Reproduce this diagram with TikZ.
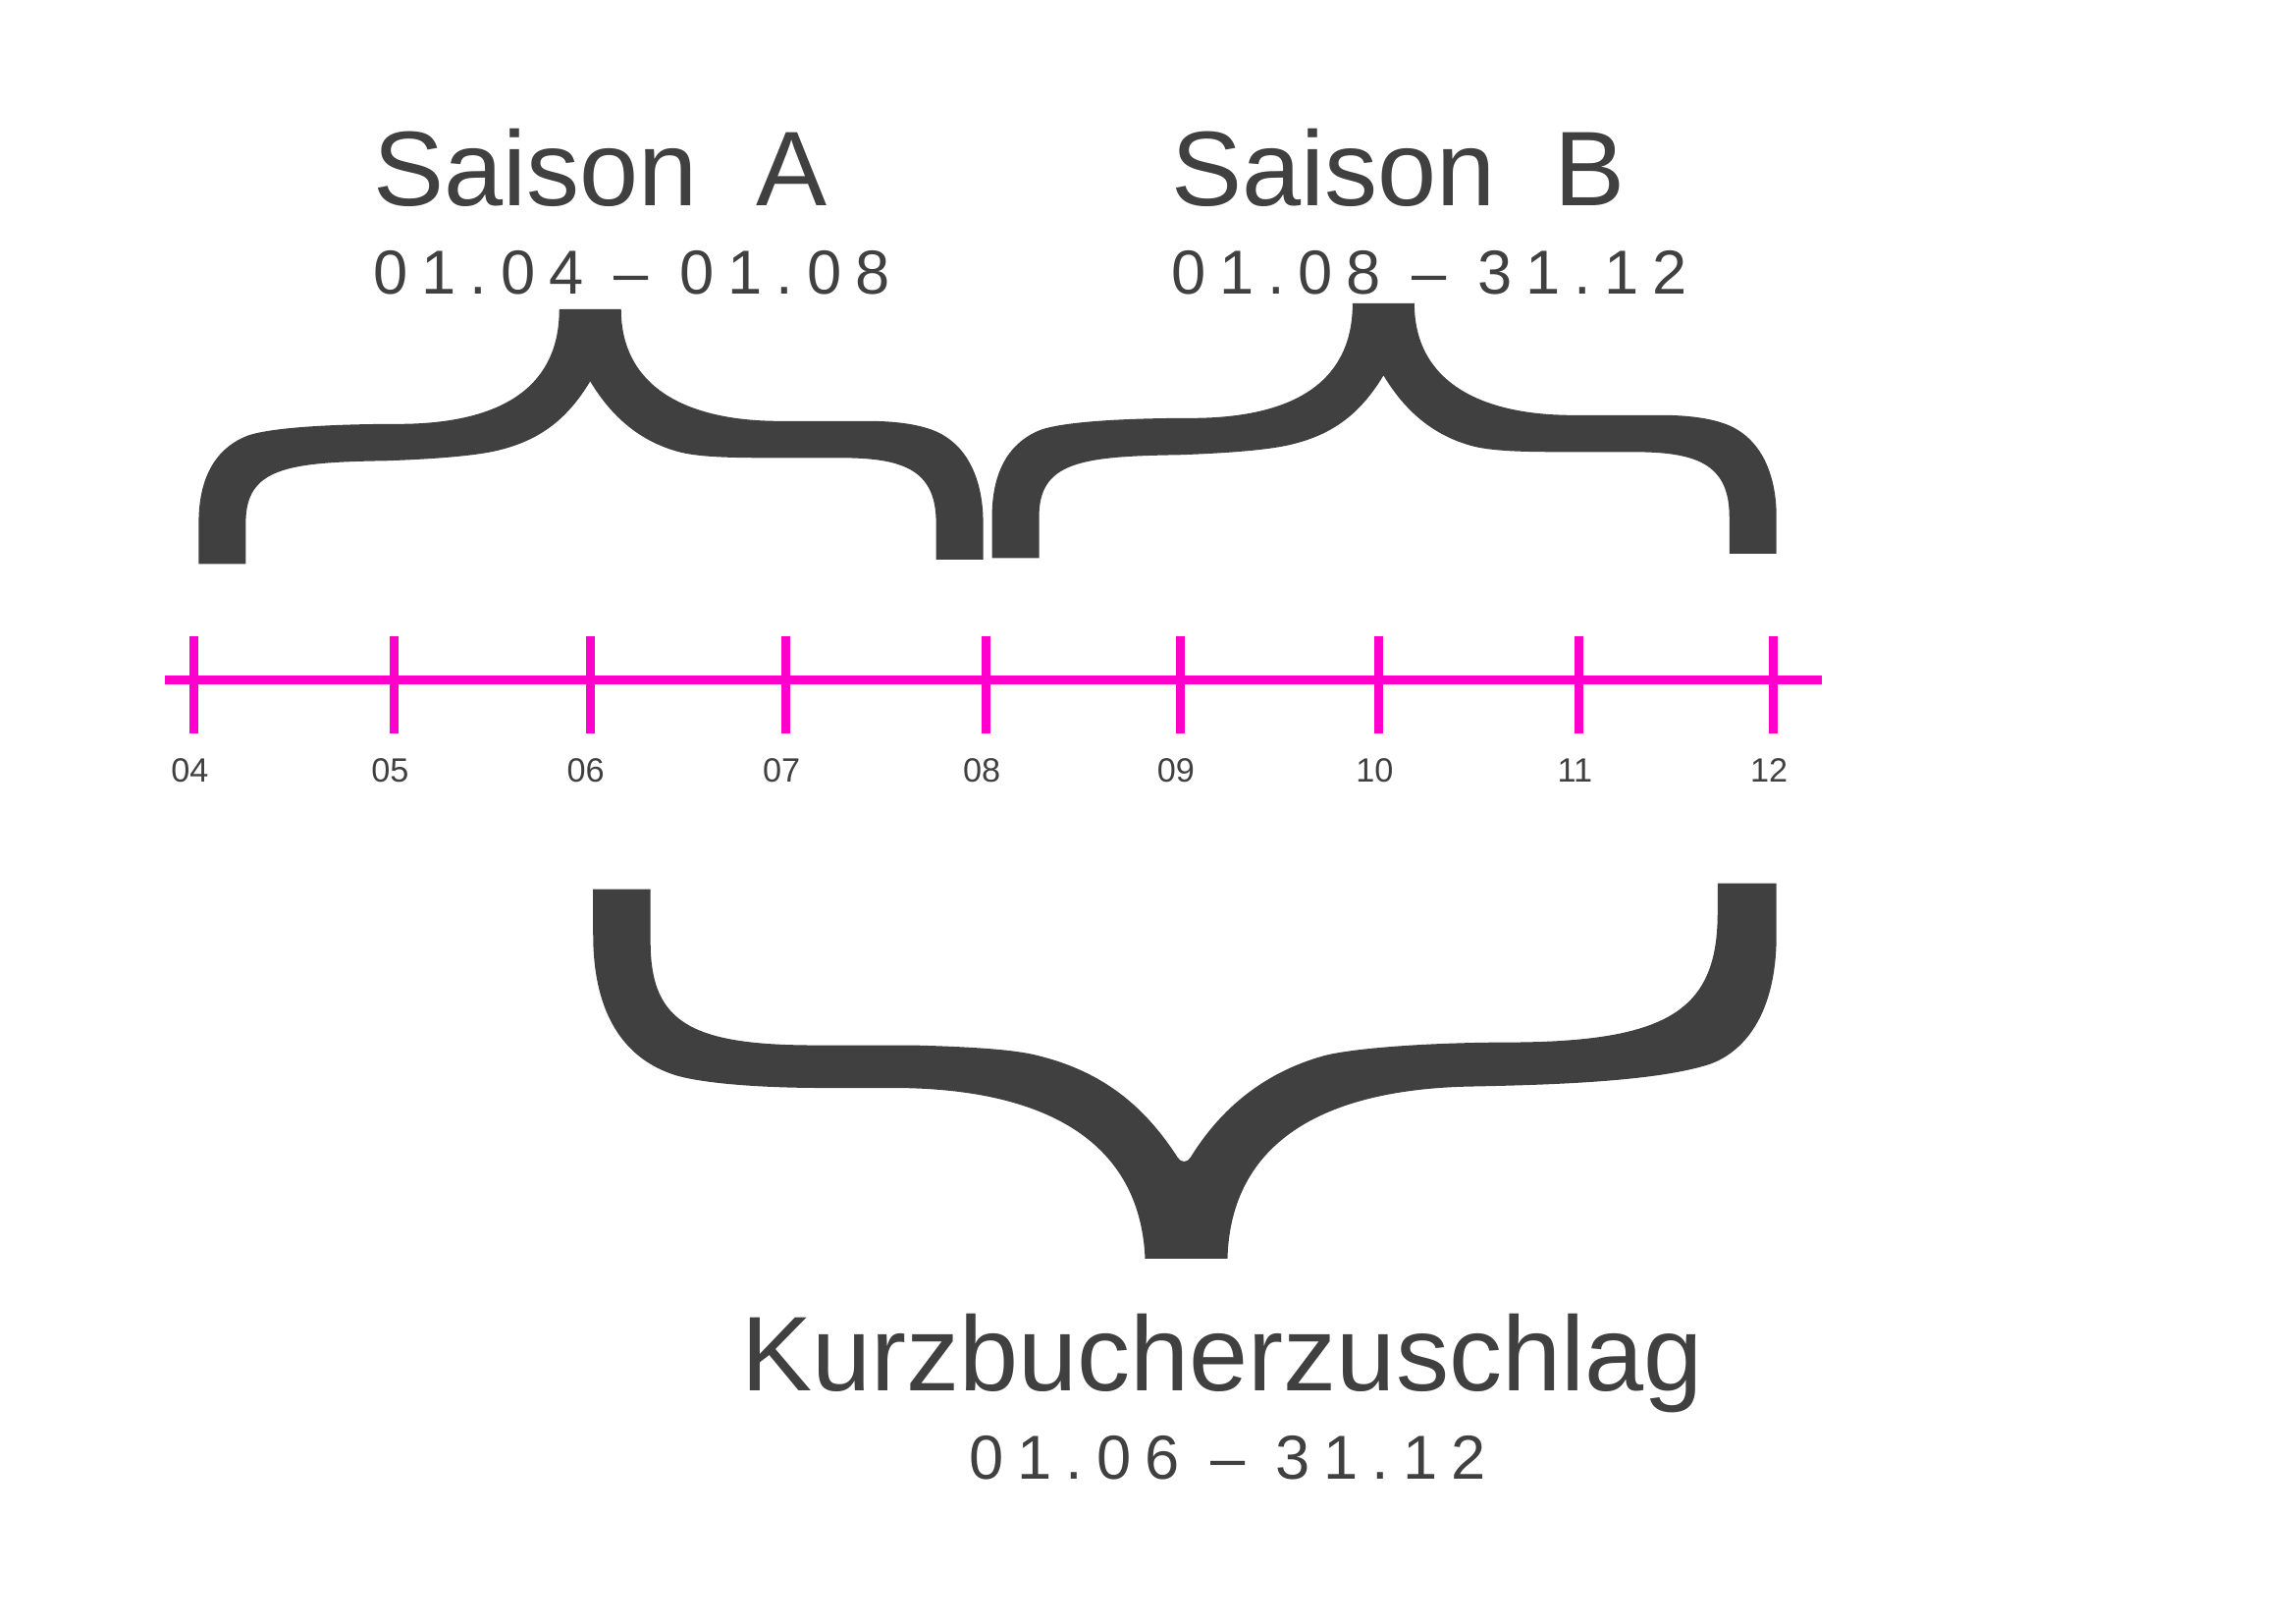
\documentclass[tikz,border=0pt]{standalone}
\usepackage{fontspec}
\setmainfont{Liberation Sans}
\definecolor{dk}{HTML}{404040}
\definecolor{mg}{HTML}{FF00CC}
\begin{document}
\begin{tikzpicture}[x=0.01cm,y=-0.01cm,
  title/.style={anchor=base west,inner sep=0,text=dk,font=\fontsize{20.5pt}{24pt}\selectfont},
  date/.style={anchor=base west,inner sep=0,text=dk,font=\fontsize{12pt}{14pt}\selectfont\addfontfeature{LetterSpace=22}},
  lab/.style={anchor=base,inner sep=0,text=dk,font=\fontsize{6.5pt}{8pt}\selectfont},
  tick/.style={draw=mg,line width=1.7pt}]
\useasboundingbox (0,0) rectangle (1560,1103);
% timeline
\coordinate (tl0) at (112,462); \coordinate (tl1) at (1238,462);
\draw[mg,line width=1.7pt] (tl0) -- (tl1);
\foreach \x/\l [count=\i] in {132/04,268/05,401/06,534/07,670/08,802/09,937/10,1073/11,1205/12}{
  \coordinate (ta\i) at (\x,432); \coordinate (tb\i) at (\x,498);
  \draw[tick] (ta\i) -- (tb\i);
  \node[lab] (l\i) at (\x-3,531) {\l};
}
% upper brace shape
\def\bracepath{(135,383) -- (135,355) .. controls (135,320) and (150,303) .. (168,296)
 .. controls (185,290) and (230,288) .. (270,288) .. controls (345,288) and (380,260) .. (380,210)
 -- (422,210) .. controls (422,262) and (465,286) .. (530,286) -- (590,286)
 .. controls (615,286) and (630,290) .. (638,294) .. controls (660,305) and (668,330) .. (668,355)
 -- (668,380) -- (636,380) -- (636,355) .. controls (636,318) and (612,311) .. (570,311)
 -- (520,311) .. controls (490,311) and (470,310) .. (458,306)
 .. controls (435,299) and (416,284) .. (401,259)
 .. controls (386,284) and (368,298) .. (342,305) .. controls (325,310) and (290,312) .. (262,313)
 .. controls (195,314) and (167,318) .. (167,355) -- (167,383) -- cycle}
\fill[dk] \bracepath;
\begin{scope}[shift={(539,-4)}]
\fill[dk] \bracepath;
\end{scope}
% lower brace
\fill[dk] (403,604) -- (442,604) -- (442,640) .. controls (442,695) and (470,710) .. (555,710)
 -- (620,710) .. controls (660,711) and (690,713) .. (705,717)
 .. controls (750,728) and (778,752) .. (800,786) .. controls (802,790) and (807,790) .. (809,786)
 .. controls (830,752) and (860,728) .. (900,717) .. controls (920,712) and (970,708) .. (1030,708)
 .. controls (1135,707) and (1167,685) .. (1167,620) -- (1167,600) -- (1207,600) -- (1207,635)
 .. controls (1207,695) and (1180,718) .. (1158,724) .. controls (1120,735) and (1050,737) .. (1000,738)
 .. controls (890,740) and (836,782) .. (834,855) -- (778,855)
 .. controls (775,782) and (720,740) .. (610,739) -- (560,739)
 .. controls (510,739) and (470,735) .. (455,729) .. controls (425,718) and (403,690) .. (403,635) -- cycle;
% texts
\node[title] (sa) at (253,140) {Saison\ \ A};
\node[date] (da) at (253,200) {01.04 – 01.08};
\node[title] (sb) at (795,140) {Saison\ \ B};
\node[date] (db) at (795,200) {01.08 – 31.12};
\node[title] (k) at (503,945) {Kurzbucherzuschlag};
\node[date] (dk) at (658,1005) {01.06 – 31.12};
\end{tikzpicture}
\end{document}
